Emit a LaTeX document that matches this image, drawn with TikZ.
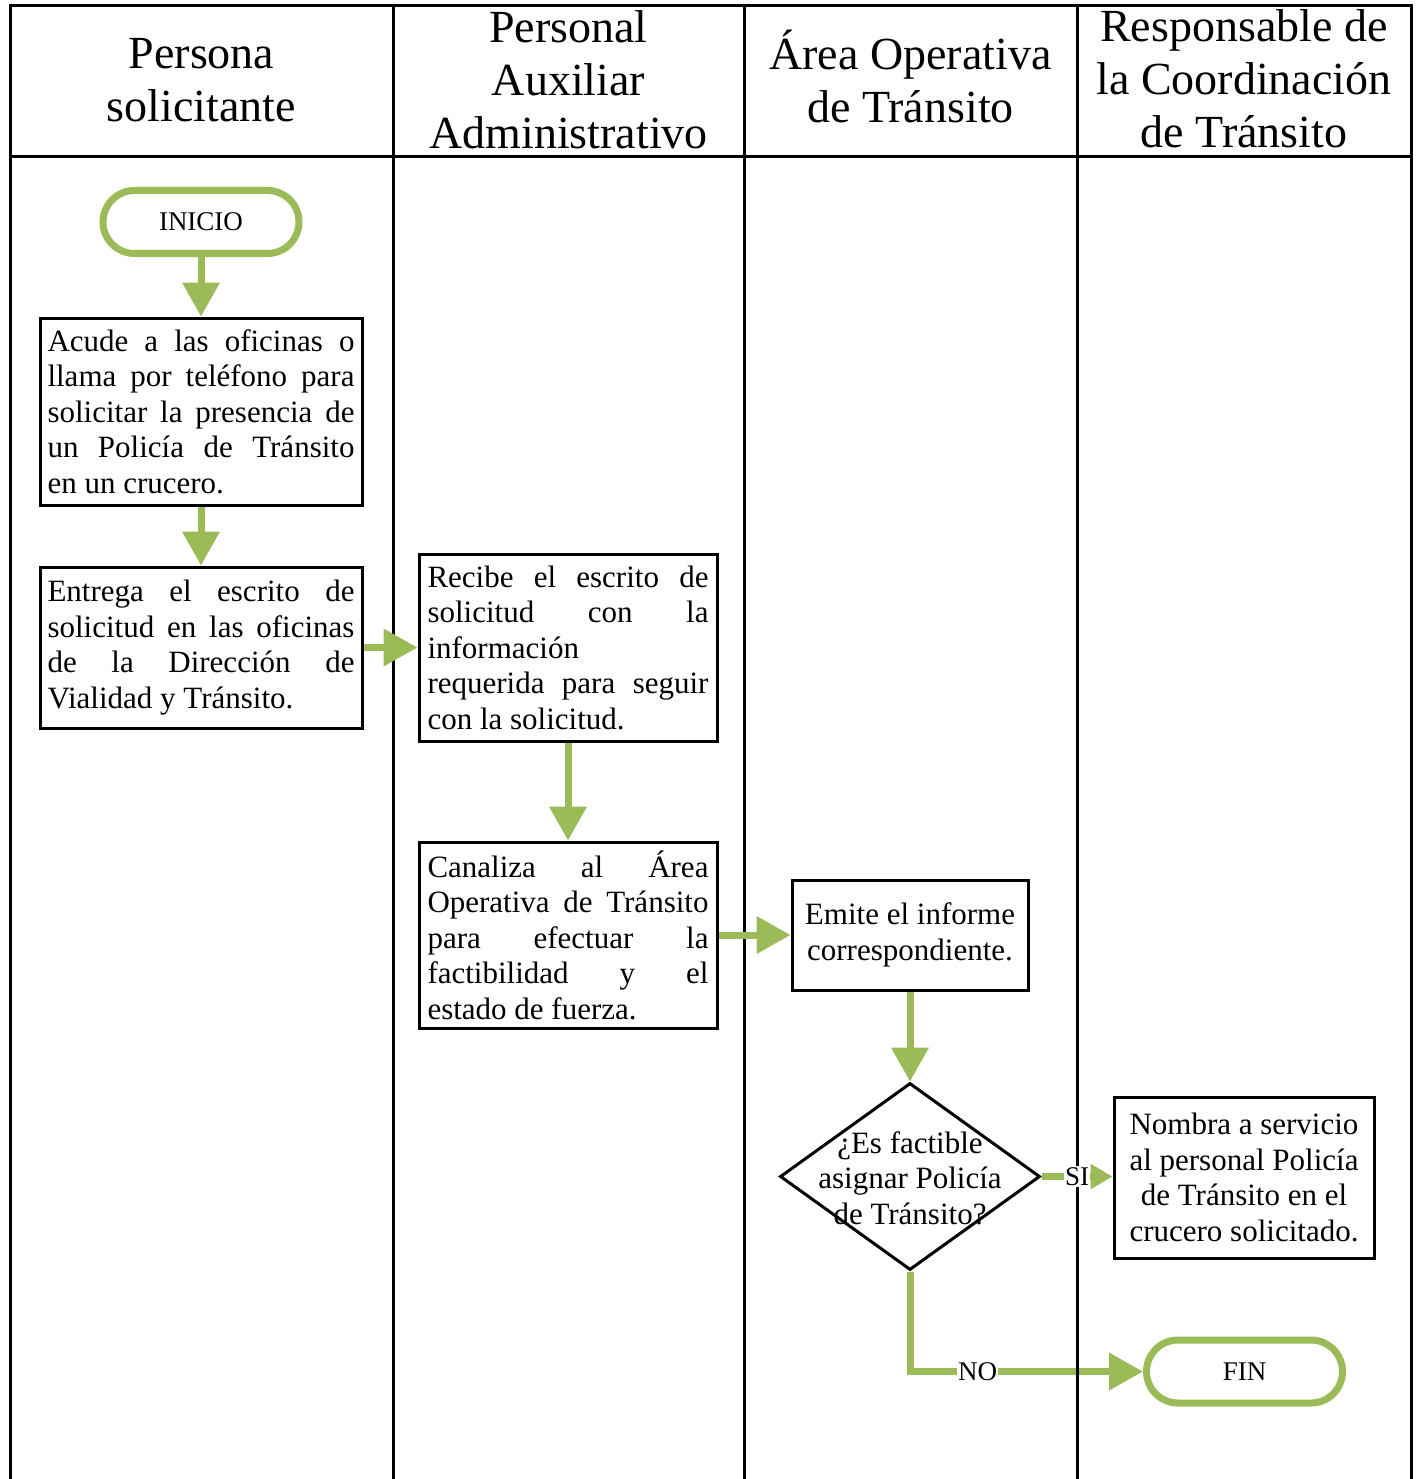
\documentclass[tikz,border=0pt]{standalone}
\usepackage{fontspec}
\setmainfont{Liberation Serif}
\usetikzlibrary{arrows.meta,shapes.geometric}
\definecolor{flow}{HTML}{9BBB59}
\begin{document}
\begin{tikzpicture}[x=1pt,y=-1pt,
  lane/.style={line width=3pt,line cap=rect},
  hdr/.style={align=center,inner sep=0pt,font=\fontsize{46}{53}\selectfont},
  box/.style={draw,line width=3pt,fill=white,inner ysep=0pt,font=\fontsize{31}{35.5}\selectfont},
  jboxA/.style={box,align=justify,text width=307pt,inner xsep=7.5pt,minimum height=#1},
  jboxB/.style={box,align=justify,text width=281pt,inner xsep=8.5pt,minimum height=#1},
  cbox/.style={box,align=center,inner xsep=2pt},
  term/.style={draw=flow,line width=7pt,rounded corners=31.5pt,minimum width=196pt,minimum height=63pt,inner sep=0pt,fill=white,font=\fontsize{27}{32}\selectfont},
  arr/.style={draw=flow,line width=7pt,-{Triangle[length=34pt,width=36pt]}},
  arrs/.style={draw=flow,line width=7pt,-{Triangle[length=22pt,width=24pt]}},
  lbl/.style={fill=white,inner sep=1pt,text=black,font=\fontsize{27}{32}\selectfont}
]
\useasboundingbox (0,0) rectangle (1416,1479);
% swimlane frame
\draw[lane] (10,1479) -- (10,6) -- (1411,6) -- (1411,1479);
\draw[lane] (10,157) -- (1411,157);
\draw[lane] (393,6) -- (393,1479);
\draw[lane] (744,6) -- (744,1479);
\draw[lane] (1077,6) -- (1077,1479);
% headers
\node[hdr] (h1) at (201.5,80) {Persona\\solicitante};
\node[hdr] (h2) at (568.5,80) {Personal\\Auxiliar\\Administrativo};
\node[hdr] (h3) at (910.5,76) {Área Operativa\\de Tránsito};
\node[hdr] (h4) at (1244,79) {Responsable de\\la Coordinación\\de Tránsito};
% nodes
\node[term] (ini) at (201,222) {INICIO};
\node[jboxA=187pt] (b1) at (201,411.5) {Acude a las oficinas o\linebreak llama por teléfono para\linebreak solicitar la presencia de\linebreak un Policía de Tránsito\linebreak en un crucero.};
\node[jboxA=161pt] (b2) at (201,647.5) {Entrega el escrito de\linebreak solicitud en las oficinas\linebreak de la Dirección de\linebreak Vialidad y Tránsito.};
\node[jboxB=187pt] (b3) at (568,647.5) {Recibe el escrito de\linebreak solicitud con la\linebreak información\\requerida para seguir\linebreak con la solicitud.};
\node[jboxB=186pt] (b4) at (568,935) {Canaliza al Área\linebreak Operativa de Tránsito\linebreak para efectuar la\linebreak factibilidad y el\linebreak estado de fuerza.};
\node[cbox,minimum width=236pt,minimum height=110pt] (b5) at (910,935) {\raisebox{-3pt}{\parbox{230pt}{\centering Emite el informe\\correspondiente.}}};
\node[draw,line width=3pt,diamond,minimum width=260pt,minimum height=187pt,inner sep=0pt,
  label={[font=\fontsize{31}{35.5}\selectfont,align=center,inner sep=0pt,yshift=-1.5pt]center:{¿Es factible\\asignar Policía\\de Tránsito?}}] (dia) at (910,1176.5) {};
\node[cbox,minimum width=260pt,minimum height=161pt] (b6) at (1244,1177.5) {Nombra a servicio\\al personal Policía\\de Tránsito en el\\crucero solicitado.};
\node[term] (fin) at (1244.5,1371.5) {FIN};
% connectors
\draw[arr] (ini.south) -- (b1.north);
\draw[arr] (b1.south) -- (b2.north);
\draw[arr] (b2.east) -- (b3.west);
\draw[arr] (b3.south) -- (b4.north);
\draw[arr] (b4.east) -- (b5.west);
\draw[arr] (b5.south) -- (dia.north);
\draw[arrs] (dia.east) -- node[lbl]{SI} (dia.east -| b6.west);
\draw[arr] (dia.south) |- node[lbl,pos=0.645]{NO} (fin.west);
% lane line visible over the NO connector
\draw[lane,line cap=butt] (1077,1362) -- (1077,1381);
\end{tikzpicture}
\end{document}
